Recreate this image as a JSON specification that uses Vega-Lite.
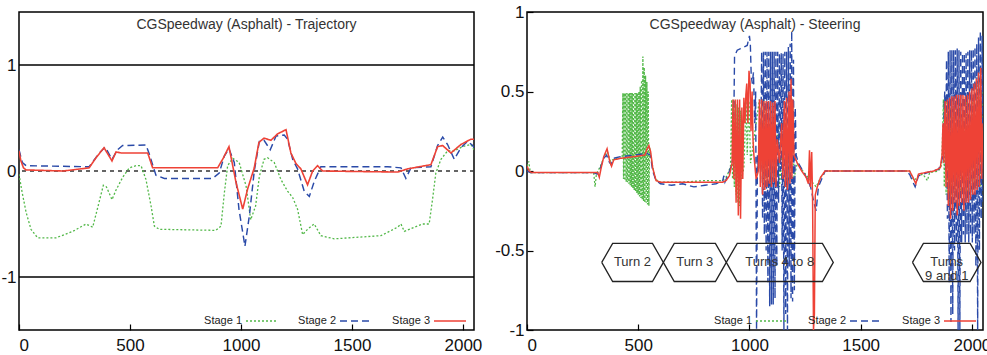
{
  "$schema": "https://vega.github.io/schema/vega-lite/v6.json",
  "padding": {"left": 0, "top": 2, "right": -4, "bottom": 0},
  "bounds": "flush",
  "spacing": 53,
  "config": {
    "font": "Liberation Sans",
    "view": {"stroke": "#000", "strokeWidth": 1.5},
    "axis": {
      "grid": false,
      "domain": false,
      "title": null,
      "labelFont": "Liberation Sans",
      "labelFontSize": 17,
      "labelColor": "#111",
      "tickColor": "#000",
      "tickWidth": 1.2,
      "tickSize": -6,
      "labelPadding": 13
    },
    "title": {
      "font": "Liberation Sans",
      "fontSize": 14,
      "fontWeight": "normal",
      "color": "#333",
      "frame": "group"
    },
    "legend": {
      "orient": "bottom-right",
      "direction": "horizontal",
      "title": null,
      "offset": 4,
      "padding": 0,
      "symbolType": "stroke",
      "symbolSize": 1024,
      "labelFont": "Liberation Sans",
      "labelFontSize": 11,
      "labelColor": "#222",
      "labelAlign": "right",
      "labelOffset": -37,
      "columnPadding": 17
    }
  },
  "datasets": {
    "trajectory": [
      {"x": 0, "y": -0.03, "stage": "Stage 1"}, {"x": 14, "y": -0.2, "stage": "Stage 1"}, {"x": 32, "y": -0.39, "stage": "Stage 1"}, {"x": 54, "y": -0.55, "stage": "Stage 1"}, {"x": 84, "y": -0.63, "stage": "Stage 1"}, {"x": 167, "y": -0.63, "stage": "Stage 1"}, {"x": 242, "y": -0.57, "stage": "Stage 1"}, {"x": 302, "y": -0.5, "stage": "Stage 1"}, {"x": 332, "y": -0.53, "stage": "Stage 1"}, {"x": 354, "y": -0.35, "stage": "Stage 1"}, {"x": 380, "y": -0.135, "stage": "Stage 1"}, {"x": 394, "y": -0.15, "stage": "Stage 1"}, {"x": 419, "y": -0.27, "stage": "Stage 1"}, {"x": 437, "y": -0.18, "stage": "Stage 1"}, {"x": 467, "y": -0.06, "stage": "Stage 1"}, {"x": 497, "y": 0.03, "stage": "Stage 1"}, {"x": 527, "y": 0.05, "stage": "Stage 1"}, {"x": 550, "y": 0.05, "stage": "Stage 1"}, {"x": 572, "y": -0.08, "stage": "Stage 1"}, {"x": 595, "y": -0.33, "stage": "Stage 1"}, {"x": 610, "y": -0.52, "stage": "Stage 1"}, {"x": 632, "y": -0.55, "stage": "Stage 1"}, {"x": 887, "y": -0.56, "stage": "Stage 1"}, {"x": 910, "y": -0.52, "stage": "Stage 1"}, {"x": 925, "y": -0.21, "stage": "Stage 1"}, {"x": 940, "y": 0.05, "stage": "Stage 1"}, {"x": 963, "y": 0.12, "stage": "Stage 1"}, {"x": 992, "y": 0.08, "stage": "Stage 1"}, {"x": 1023, "y": -0.14, "stage": "Stage 1"}, {"x": 1044, "y": -0.46, "stage": "Stage 1"}, {"x": 1066, "y": -0.33, "stage": "Stage 1"}, {"x": 1083, "y": -0.05, "stage": "Stage 1"}, {"x": 1104, "y": 0.11, "stage": "Stage 1"}, {"x": 1120, "y": 0.125, "stage": "Stage 1"}, {"x": 1150, "y": 0.08, "stage": "Stage 1"}, {"x": 1180, "y": -0.08, "stage": "Stage 1"}, {"x": 1210, "y": -0.19, "stage": "Stage 1"}, {"x": 1233, "y": -0.25, "stage": "Stage 1"}, {"x": 1255, "y": -0.36, "stage": "Stage 1"}, {"x": 1278, "y": -0.6, "stage": "Stage 1"}, {"x": 1300, "y": -0.55, "stage": "Stage 1"}, {"x": 1330, "y": -0.5, "stage": "Stage 1"}, {"x": 1360, "y": -0.61, "stage": "Stage 1"}, {"x": 1420, "y": -0.64, "stage": "Stage 1"}, {"x": 1631, "y": -0.61, "stage": "Stage 1"}, {"x": 1706, "y": -0.53, "stage": "Stage 1"}, {"x": 1721, "y": -0.5, "stage": "Stage 1"}, {"x": 1736, "y": -0.57, "stage": "Stage 1"}, {"x": 1781, "y": -0.53, "stage": "Stage 1"}, {"x": 1818, "y": -0.5, "stage": "Stage 1"}, {"x": 1848, "y": -0.5, "stage": "Stage 1"}, {"x": 1863, "y": -0.27, "stage": "Stage 1"}, {"x": 1878, "y": -0.02, "stage": "Stage 1"}, {"x": 1901, "y": 0.11, "stage": "Stage 1"}, {"x": 1931, "y": 0.19, "stage": "Stage 1"}, {"x": 1961, "y": 0.19, "stage": "Stage 1"}, {"x": 1999, "y": 0.23, "stage": "Stage 1"}, {"x": 2036, "y": 0.25, "stage": "Stage 1"}, {"x": 2050, "y": 0.2, "stage": "Stage 1"},
      {"x": 0, "y": 0.2, "stage": "Stage 2"}, {"x": 5, "y": 0.16, "stage": "Stage 2"}, {"x": 15, "y": 0.08, "stage": "Stage 2"}, {"x": 32, "y": 0.05, "stage": "Stage 2"}, {"x": 316, "y": 0.04, "stage": "Stage 2"}, {"x": 362, "y": 0.17, "stage": "Stage 2"}, {"x": 389, "y": 0.225, "stage": "Stage 2"}, {"x": 419, "y": 0.11, "stage": "Stage 2"}, {"x": 444, "y": 0.2, "stage": "Stage 2"}, {"x": 467, "y": 0.24, "stage": "Stage 2"}, {"x": 572, "y": 0.245, "stage": "Stage 2"}, {"x": 587, "y": 0.16, "stage": "Stage 2"}, {"x": 617, "y": -0.04, "stage": "Stage 2"}, {"x": 655, "y": -0.07, "stage": "Stage 2"}, {"x": 872, "y": -0.07, "stage": "Stage 2"}, {"x": 902, "y": -0.02, "stage": "Stage 2"}, {"x": 925, "y": 0.14, "stage": "Stage 2"}, {"x": 946, "y": 0.21, "stage": "Stage 2"}, {"x": 970, "y": 0.08, "stage": "Stage 2"}, {"x": 991, "y": -0.36, "stage": "Stage 2"}, {"x": 1018, "y": -0.71, "stage": "Stage 2"}, {"x": 1038, "y": -0.42, "stage": "Stage 2"}, {"x": 1060, "y": 0.0, "stage": "Stage 2"}, {"x": 1083, "y": 0.28, "stage": "Stage 2"}, {"x": 1104, "y": 0.29, "stage": "Stage 2"}, {"x": 1132, "y": 0.2, "stage": "Stage 2"}, {"x": 1158, "y": 0.33, "stage": "Stage 2"}, {"x": 1195, "y": 0.34, "stage": "Stage 2"}, {"x": 1210, "y": 0.3, "stage": "Stage 2"}, {"x": 1233, "y": 0.11, "stage": "Stage 2"}, {"x": 1255, "y": 0.02, "stage": "Stage 2"}, {"x": 1285, "y": -0.19, "stage": "Stage 2"}, {"x": 1308, "y": -0.24, "stage": "Stage 2"}, {"x": 1330, "y": -0.1, "stage": "Stage 2"}, {"x": 1360, "y": 0.04, "stage": "Stage 2"}, {"x": 1661, "y": 0.04, "stage": "Stage 2"}, {"x": 1721, "y": 0.03, "stage": "Stage 2"}, {"x": 1743, "y": -0.07, "stage": "Stage 2"}, {"x": 1766, "y": 0.03, "stage": "Stage 2"}, {"x": 1856, "y": 0.04, "stage": "Stage 2"}, {"x": 1886, "y": 0.24, "stage": "Stage 2"}, {"x": 1909, "y": 0.32, "stage": "Stage 2"}, {"x": 1931, "y": 0.25, "stage": "Stage 2"}, {"x": 1961, "y": 0.11, "stage": "Stage 2"}, {"x": 1991, "y": 0.22, "stage": "Stage 2"}, {"x": 2021, "y": 0.28, "stage": "Stage 2"}, {"x": 2044, "y": 0.24, "stage": "Stage 2"}, {"x": 2050, "y": 0.22, "stage": "Stage 2"},
      {"x": 0, "y": 0.19, "stage": "Stage 3"}, {"x": 8, "y": 0.1, "stage": "Stage 3"}, {"x": 20, "y": 0.03, "stage": "Stage 3"}, {"x": 32, "y": 0.01, "stage": "Stage 3"}, {"x": 200, "y": 0.0, "stage": "Stage 3"}, {"x": 316, "y": 0.03, "stage": "Stage 3"}, {"x": 347, "y": 0.125, "stage": "Stage 3"}, {"x": 383, "y": 0.22, "stage": "Stage 3"}, {"x": 419, "y": 0.095, "stage": "Stage 3"}, {"x": 437, "y": 0.18, "stage": "Stage 3"}, {"x": 460, "y": 0.17, "stage": "Stage 3"}, {"x": 580, "y": 0.17, "stage": "Stage 3"}, {"x": 602, "y": 0.03, "stage": "Stage 3"}, {"x": 895, "y": 0.03, "stage": "Stage 3"}, {"x": 920, "y": 0.12, "stage": "Stage 3"}, {"x": 946, "y": 0.23, "stage": "Stage 3"}, {"x": 978, "y": -0.11, "stage": "Stage 3"}, {"x": 1008, "y": -0.36, "stage": "Stage 3"}, {"x": 1030, "y": -0.17, "stage": "Stage 3"}, {"x": 1060, "y": 0.03, "stage": "Stage 3"}, {"x": 1081, "y": 0.27, "stage": "Stage 3"}, {"x": 1104, "y": 0.31, "stage": "Stage 3"}, {"x": 1135, "y": 0.29, "stage": "Stage 3"}, {"x": 1165, "y": 0.35, "stage": "Stage 3"}, {"x": 1203, "y": 0.39, "stage": "Stage 3"}, {"x": 1225, "y": 0.17, "stage": "Stage 3"}, {"x": 1248, "y": 0.07, "stage": "Stage 3"}, {"x": 1270, "y": 0.02, "stage": "Stage 3"}, {"x": 1300, "y": -0.13, "stage": "Stage 3"}, {"x": 1323, "y": 0.0, "stage": "Stage 3"}, {"x": 1345, "y": 0.05, "stage": "Stage 3"}, {"x": 1368, "y": 0.0, "stage": "Stage 3"}, {"x": 1706, "y": -0.01, "stage": "Stage 3"}, {"x": 1751, "y": 0.02, "stage": "Stage 3"}, {"x": 1856, "y": 0.06, "stage": "Stage 3"}, {"x": 1886, "y": 0.23, "stage": "Stage 3"}, {"x": 1909, "y": 0.24, "stage": "Stage 3"}, {"x": 1946, "y": 0.17, "stage": "Stage 3"}, {"x": 1991, "y": 0.25, "stage": "Stage 3"}, {"x": 2036, "y": 0.3, "stage": "Stage 3"}, {"x": 2050, "y": 0.3, "stage": "Stage 3"}
    ],
    "steering": [
      {"x": 0, "y": 0.03, "stage": "Stage 1"}, {"x": 8, "y": 0.06, "stage": "Stage 1"}, {"x": 15, "y": -0.01, "stage": "Stage 1"}, {"x": 300, "y": -0.01, "stage": "Stage 1"}, {"x": 306, "y": -0.1, "stage": "Stage 1"}, {"x": 312, "y": -0.02, "stage": "Stage 1"}, {"x": 330, "y": 0.03, "stage": "Stage 1"}, {"x": 350, "y": 0.1, "stage": "Stage 1"}, {"x": 362, "y": 0.12, "stage": "Stage 1"}, {"x": 375, "y": 0.06, "stage": "Stage 1"}, {"x": 395, "y": 0.08, "stage": "Stage 1"}, {"x": 428, "y": 0.08, "stage": "Stage 1"},
      {"x": 431, "y": 0.49, "stage": "Stage 1"}, {"x": 434, "y": -0.05, "stage": "Stage 1"}, {"x": 437, "y": 0.49, "stage": "Stage 1"}, {"x": 440, "y": -0.06, "stage": "Stage 1"}, {"x": 443, "y": 0.49, "stage": "Stage 1"}, {"x": 446, "y": -0.07, "stage": "Stage 1"}, {"x": 449, "y": 0.49, "stage": "Stage 1"}, {"x": 452, "y": -0.07, "stage": "Stage 1"}, {"x": 455, "y": 0.49, "stage": "Stage 1"}, {"x": 458, "y": -0.08, "stage": "Stage 1"}, {"x": 461, "y": 0.49, "stage": "Stage 1"}, {"x": 464, "y": -0.09, "stage": "Stage 1"}, {"x": 467, "y": 0.49, "stage": "Stage 1"}, {"x": 470, "y": -0.1, "stage": "Stage 1"}, {"x": 473, "y": 0.49, "stage": "Stage 1"}, {"x": 476, "y": -0.11, "stage": "Stage 1"}, {"x": 479, "y": 0.49, "stage": "Stage 1"}, {"x": 482, "y": -0.12, "stage": "Stage 1"}, {"x": 485, "y": 0.49, "stage": "Stage 1"}, {"x": 488, "y": -0.13, "stage": "Stage 1"}, {"x": 491, "y": 0.49, "stage": "Stage 1"}, {"x": 494, "y": -0.14, "stage": "Stage 1"}, {"x": 497, "y": 0.49, "stage": "Stage 1"}, {"x": 500, "y": -0.15, "stage": "Stage 1"}, {"x": 503, "y": 0.5, "stage": "Stage 1"}, {"x": 506, "y": -0.16, "stage": "Stage 1"}, {"x": 509, "y": 0.53, "stage": "Stage 1"}, {"x": 512, "y": -0.17, "stage": "Stage 1"}, {"x": 515, "y": 0.57, "stage": "Stage 1"}, {"x": 518, "y": -0.18, "stage": "Stage 1"}, {"x": 521, "y": 0.72, "stage": "Stage 1"}, {"x": 524, "y": -0.19, "stage": "Stage 1"}, {"x": 527, "y": 0.65, "stage": "Stage 1"}, {"x": 530, "y": -0.2, "stage": "Stage 1"}, {"x": 533, "y": 0.6, "stage": "Stage 1"}, {"x": 536, "y": -0.2, "stage": "Stage 1"}, {"x": 539, "y": 0.56, "stage": "Stage 1"}, {"x": 542, "y": -0.21, "stage": "Stage 1"}, {"x": 545, "y": 0.5, "stage": "Stage 1"}, {"x": 548, "y": -0.22, "stage": "Stage 1"}, {"x": 551, "y": 0.15, "stage": "Stage 1"},
      {"x": 560, "y": 0.06, "stage": "Stage 1"}, {"x": 575, "y": -0.04, "stage": "Stage 1"}, {"x": 590, "y": -0.07, "stage": "Stage 1"}, {"x": 700, "y": -0.07, "stage": "Stage 1"}, {"x": 800, "y": -0.06, "stage": "Stage 1"}, {"x": 880, "y": -0.06, "stage": "Stage 1"}, {"x": 900, "y": -0.03, "stage": "Stage 1"}, {"x": 915, "y": 0.03, "stage": "Stage 1"},
      {"x": 920, "y": 0.45, "stage": "Stage 1"}, {"x": 924, "y": -0.05, "stage": "Stage 1"}, {"x": 928, "y": 0.45, "stage": "Stage 1"}, {"x": 932, "y": -0.1, "stage": "Stage 1"}, {"x": 936, "y": 0.44, "stage": "Stage 1"}, {"x": 940, "y": -0.15, "stage": "Stage 1"}, {"x": 944, "y": 0.42, "stage": "Stage 1"}, {"x": 948, "y": -0.2, "stage": "Stage 1"}, {"x": 952, "y": 0.4, "stage": "Stage 1"}, {"x": 956, "y": -0.22, "stage": "Stage 1"}, {"x": 960, "y": 0.38, "stage": "Stage 1"}, {"x": 964, "y": -0.05, "stage": "Stage 1"}, {"x": 975, "y": 0.02, "stage": "Stage 1"}, {"x": 985, "y": 0.44, "stage": "Stage 1"}, {"x": 990, "y": 0.1, "stage": "Stage 1"}, {"x": 998, "y": 0.44, "stage": "Stage 1"}, {"x": 1005, "y": 0.05, "stage": "Stage 1"},
      {"x": 1045, "y": 0.45, "stage": "Stage 1"}, {"x": 1050, "y": -0.05, "stage": "Stage 1"}, {"x": 1055, "y": 0.45, "stage": "Stage 1"}, {"x": 1060, "y": -0.08, "stage": "Stage 1"}, {"x": 1065, "y": 0.45, "stage": "Stage 1"}, {"x": 1070, "y": -0.05, "stage": "Stage 1"}, {"x": 1075, "y": 0.4, "stage": "Stage 1"}, {"x": 1080, "y": -0.1, "stage": "Stage 1"}, {"x": 1090, "y": 0.3, "stage": "Stage 1"}, {"x": 1095, "y": -0.1, "stage": "Stage 1"}, {"x": 1105, "y": 0.35, "stage": "Stage 1"}, {"x": 1110, "y": -0.05, "stage": "Stage 1"}, {"x": 1130, "y": 0.3, "stage": "Stage 1"}, {"x": 1135, "y": -0.1, "stage": "Stage 1"}, {"x": 1160, "y": 0.35, "stage": "Stage 1"}, {"x": 1165, "y": -0.1, "stage": "Stage 1"}, {"x": 1195, "y": 0.45, "stage": "Stage 1"}, {"x": 1200, "y": -0.05, "stage": "Stage 1"},
      {"x": 1215, "y": 0.05, "stage": "Stage 1"}, {"x": 1240, "y": 0.0, "stage": "Stage 1"}, {"x": 1270, "y": -0.05, "stage": "Stage 1"}, {"x": 1300, "y": -0.1, "stage": "Stage 1"}, {"x": 1320, "y": -0.04, "stage": "Stage 1"}, {"x": 1345, "y": 0.0, "stage": "Stage 1"}, {"x": 1720, "y": 0.0, "stage": "Stage 1"}, {"x": 1740, "y": -0.06, "stage": "Stage 1"}, {"x": 1760, "y": -0.03, "stage": "Stage 1"}, {"x": 1780, "y": -0.02, "stage": "Stage 1"}, {"x": 1800, "y": -0.06, "stage": "Stage 1"}, {"x": 1810, "y": -0.01, "stage": "Stage 1"}, {"x": 1850, "y": 0.0, "stage": "Stage 1"}, {"x": 1865, "y": 0.04, "stage": "Stage 1"},
      {"x": 1872, "y": 0.45, "stage": "Stage 1"}, {"x": 1876, "y": -0.1, "stage": "Stage 1"}, {"x": 1880, "y": 0.46, "stage": "Stage 1"}, {"x": 1884, "y": -0.15, "stage": "Stage 1"}, {"x": 1888, "y": 0.44, "stage": "Stage 1"}, {"x": 1892, "y": -0.18, "stage": "Stage 1"}, {"x": 1896, "y": 0.42, "stage": "Stage 1"}, {"x": 1900, "y": -0.2, "stage": "Stage 1"}, {"x": 1905, "y": 0.4, "stage": "Stage 1"}, {"x": 1910, "y": -0.18, "stage": "Stage 1"}, {"x": 1920, "y": 0.4, "stage": "Stage 1"}, {"x": 1925, "y": -0.15, "stage": "Stage 1"}, {"x": 1945, "y": 0.4, "stage": "Stage 1"}, {"x": 1950, "y": -0.15, "stage": "Stage 1"}, {"x": 1975, "y": 0.45, "stage": "Stage 1"}, {"x": 1980, "y": -0.15, "stage": "Stage 1"}, {"x": 2005, "y": 0.45, "stage": "Stage 1"}, {"x": 2010, "y": -0.1, "stage": "Stage 1"}, {"x": 2030, "y": 0.6, "stage": "Stage 1"}, {"x": 2040, "y": -0.1, "stage": "Stage 1"}, {"x": 2048, "y": 0.5, "stage": "Stage 1"},

      {"x": 0, "y": 0.0, "stage": "Stage 2"}, {"x": 15, "y": -0.01, "stage": "Stage 2"}, {"x": 300, "y": -0.01, "stage": "Stage 2"}, {"x": 315, "y": -0.02, "stage": "Stage 2"}, {"x": 330, "y": 0.02, "stage": "Stage 2"}, {"x": 345, "y": 0.08, "stage": "Stage 2"}, {"x": 358, "y": 0.1, "stage": "Stage 2"}, {"x": 368, "y": 0.06, "stage": "Stage 2"}, {"x": 378, "y": 0.04, "stage": "Stage 2"}, {"x": 390, "y": 0.08, "stage": "Stage 2"}, {"x": 420, "y": 0.09, "stage": "Stage 2"}, {"x": 480, "y": 0.1, "stage": "Stage 2"}, {"x": 540, "y": 0.11, "stage": "Stage 2"}, {"x": 555, "y": 0.1, "stage": "Stage 2"}, {"x": 565, "y": 0.0, "stage": "Stage 2"}, {"x": 580, "y": -0.06, "stage": "Stage 2"}, {"x": 600, "y": -0.08, "stage": "Stage 2"}, {"x": 650, "y": -0.09, "stage": "Stage 2"}, {"x": 700, "y": -0.08, "stage": "Stage 2"}, {"x": 750, "y": -0.1, "stage": "Stage 2"}, {"x": 800, "y": -0.09, "stage": "Stage 2"}, {"x": 850, "y": -0.08, "stage": "Stage 2"}, {"x": 880, "y": -0.06, "stage": "Stage 2"}, {"x": 885, "y": -0.03, "stage": "Stage 2"}, {"x": 890, "y": -0.07, "stage": "Stage 2"}, {"x": 905, "y": -0.02, "stage": "Stage 2"}, {"x": 920, "y": 0.04, "stage": "Stage 2"}, {"x": 928, "y": 0.1, "stage": "Stage 2"},
      {"x": 933, "y": 0.72, "stage": "Stage 2"}, {"x": 945, "y": 0.76, "stage": "Stage 2"}, {"x": 960, "y": 0.77, "stage": "Stage 2"}, {"x": 975, "y": 0.78, "stage": "Stage 2"}, {"x": 990, "y": 0.79, "stage": "Stage 2"}, {"x": 1000, "y": 0.85, "stage": "Stage 2"}, {"x": 1004, "y": 0.8, "stage": "Stage 2"}, {"x": 1008, "y": 0.6, "stage": "Stage 2"}, {"x": 1013, "y": 0.55, "stage": "Stage 2"}, {"x": 1018, "y": 0.62, "stage": "Stage 2"}, {"x": 1024, "y": 0.3, "stage": "Stage 2"}, {"x": 1028, "y": 0.5, "stage": "Stage 2"}, {"x": 1032, "y": -1.0, "stage": "Stage 2"}, {"x": 1036, "y": 0.1, "stage": "Stage 2"}, {"x": 1040, "y": 0.0, "stage": "Stage 2"}, {"x": 1045, "y": 0.2, "stage": "Stage 2"}, {"x": 1050, "y": 0.0, "stage": "Stage 2"},
      {"x": 1055, "y": 0.75, "stage": "Stage 2"}, {"x": 1059, "y": -0.3, "stage": "Stage 2"}, {"x": 1063, "y": 0.75, "stage": "Stage 2"}, {"x": 1067, "y": -0.4, "stage": "Stage 2"}, {"x": 1071, "y": 0.75, "stage": "Stage 2"}, {"x": 1075, "y": -0.5, "stage": "Stage 2"}, {"x": 1079, "y": 0.75, "stage": "Stage 2"}, {"x": 1083, "y": -0.7, "stage": "Stage 2"}, {"x": 1087, "y": 0.75, "stage": "Stage 2"}, {"x": 1091, "y": -0.85, "stage": "Stage 2"}, {"x": 1095, "y": 0.75, "stage": "Stage 2"}, {"x": 1099, "y": -0.84, "stage": "Stage 2"}, {"x": 1103, "y": 0.75, "stage": "Stage 2"}, {"x": 1107, "y": -0.84, "stage": "Stage 2"}, {"x": 1111, "y": 0.75, "stage": "Stage 2"}, {"x": 1115, "y": -0.8, "stage": "Stage 2"}, {"x": 1119, "y": 0.75, "stage": "Stage 2"}, {"x": 1123, "y": -0.6, "stage": "Stage 2"}, {"x": 1127, "y": 0.75, "stage": "Stage 2"}, {"x": 1131, "y": -0.2, "stage": "Stage 2"}, {"x": 1135, "y": 0.74, "stage": "Stage 2"}, {"x": 1139, "y": 0.0, "stage": "Stage 2"}, {"x": 1143, "y": 0.74, "stage": "Stage 2"}, {"x": 1147, "y": -0.5, "stage": "Stage 2"}, {"x": 1151, "y": 0.74, "stage": "Stage 2"}, {"x": 1155, "y": -1.0, "stage": "Stage 2"}, {"x": 1159, "y": 0.75, "stage": "Stage 2"}, {"x": 1163, "y": -0.9, "stage": "Stage 2"}, {"x": 1167, "y": 0.75, "stage": "Stage 2"}, {"x": 1171, "y": -1.0, "stage": "Stage 2"}, {"x": 1175, "y": 0.78, "stage": "Stage 2"}, {"x": 1179, "y": -0.6, "stage": "Stage 2"}, {"x": 1183, "y": 0.8, "stage": "Stage 2"}, {"x": 1187, "y": -0.8, "stage": "Stage 2"}, {"x": 1190, "y": 0.88, "stage": "Stage 2"}, {"x": 1194, "y": -0.82, "stage": "Stage 2"}, {"x": 1198, "y": 0.7, "stage": "Stage 2"}, {"x": 1202, "y": -0.75, "stage": "Stage 2"}, {"x": 1206, "y": 0.4, "stage": "Stage 2"}, {"x": 1210, "y": 0.1, "stage": "Stage 2"},
      {"x": 1220, "y": 0.05, "stage": "Stage 2"}, {"x": 1240, "y": 0.0, "stage": "Stage 2"}, {"x": 1260, "y": -0.05, "stage": "Stage 2"}, {"x": 1275, "y": -0.1, "stage": "Stage 2"}, {"x": 1290, "y": -0.2, "stage": "Stage 2"}, {"x": 1300, "y": -0.25, "stage": "Stage 2"}, {"x": 1310, "y": -0.1, "stage": "Stage 2"}, {"x": 1325, "y": -0.05, "stage": "Stage 2"}, {"x": 1340, "y": 0.0, "stage": "Stage 2"}, {"x": 1700, "y": 0.0, "stage": "Stage 2"}, {"x": 1720, "y": -0.02, "stage": "Stage 2"}, {"x": 1735, "y": -0.07, "stage": "Stage 2"}, {"x": 1745, "y": -0.1, "stage": "Stage 2"}, {"x": 1760, "y": -0.03, "stage": "Stage 2"}, {"x": 1780, "y": -0.02, "stage": "Stage 2"}, {"x": 1820, "y": 0.0, "stage": "Stage 2"}, {"x": 1850, "y": 0.01, "stage": "Stage 2"}, {"x": 1862, "y": 0.05, "stage": "Stage 2"}, {"x": 1870, "y": 0.1, "stage": "Stage 2"},
      {"x": 1878, "y": 0.5, "stage": "Stage 2"}, {"x": 1882, "y": 0.0, "stage": "Stage 2"}, {"x": 1886, "y": 0.7, "stage": "Stage 2"}, {"x": 1890, "y": -0.3, "stage": "Stage 2"}, {"x": 1894, "y": 0.75, "stage": "Stage 2"}, {"x": 1898, "y": -0.7, "stage": "Stage 2"}, {"x": 1902, "y": 0.76, "stage": "Stage 2"}, {"x": 1906, "y": -0.95, "stage": "Stage 2"}, {"x": 1910, "y": 0.76, "stage": "Stage 2"}, {"x": 1914, "y": -0.9, "stage": "Stage 2"}, {"x": 1918, "y": 0.76, "stage": "Stage 2"}, {"x": 1922, "y": -0.5, "stage": "Stage 2"}, {"x": 1926, "y": 0.76, "stage": "Stage 2"}, {"x": 1930, "y": -0.45, "stage": "Stage 2"}, {"x": 1934, "y": 0.77, "stage": "Stage 2"}, {"x": 1938, "y": -1.0, "stage": "Stage 2"}, {"x": 1942, "y": 0.76, "stage": "Stage 2"}, {"x": 1946, "y": -1.0, "stage": "Stage 2"}, {"x": 1950, "y": 0.75, "stage": "Stage 2"}, {"x": 1954, "y": -0.45, "stage": "Stage 2"}, {"x": 1958, "y": 0.74, "stage": "Stage 2"}, {"x": 1962, "y": -0.4, "stage": "Stage 2"}, {"x": 1966, "y": 0.74, "stage": "Stage 2"}, {"x": 1970, "y": -0.45, "stage": "Stage 2"}, {"x": 1974, "y": 0.74, "stage": "Stage 2"}, {"x": 1978, "y": -0.4, "stage": "Stage 2"}, {"x": 1982, "y": 0.75, "stage": "Stage 2"}, {"x": 1986, "y": -0.45, "stage": "Stage 2"}, {"x": 1990, "y": 0.76, "stage": "Stage 2"}, {"x": 1994, "y": -0.4, "stage": "Stage 2"}, {"x": 1998, "y": 0.76, "stage": "Stage 2"}, {"x": 2002, "y": -0.45, "stage": "Stage 2"}, {"x": 2006, "y": 0.77, "stage": "Stage 2"}, {"x": 2010, "y": -0.4, "stage": "Stage 2"}, {"x": 2014, "y": 0.78, "stage": "Stage 2"}, {"x": 2018, "y": -0.6, "stage": "Stage 2"}, {"x": 2022, "y": 0.8, "stage": "Stage 2"}, {"x": 2026, "y": -1.0, "stage": "Stage 2"}, {"x": 2030, "y": 0.84, "stage": "Stage 2"}, {"x": 2034, "y": -0.5, "stage": "Stage 2"}, {"x": 2038, "y": 0.88, "stage": "Stage 2"}, {"x": 2042, "y": -0.3, "stage": "Stage 2"}, {"x": 2046, "y": 0.85, "stage": "Stage 2"}, {"x": 2050, "y": -0.2, "stage": "Stage 2"},

      {"x": 0, "y": 0.03, "stage": "Stage 3"}, {"x": 10, "y": 0.0, "stage": "Stage 3"}, {"x": 20, "y": -0.01, "stage": "Stage 3"}, {"x": 318, "y": -0.01, "stage": "Stage 3"}, {"x": 325, "y": -0.04, "stage": "Stage 3"}, {"x": 332, "y": 0.01, "stage": "Stage 3"}, {"x": 345, "y": 0.09, "stage": "Stage 3"}, {"x": 360, "y": 0.14, "stage": "Stage 3"}, {"x": 372, "y": 0.06, "stage": "Stage 3"}, {"x": 380, "y": 0.03, "stage": "Stage 3"}, {"x": 390, "y": 0.07, "stage": "Stage 3"}, {"x": 420, "y": 0.08, "stage": "Stage 3"}, {"x": 480, "y": 0.09, "stage": "Stage 3"}, {"x": 530, "y": 0.1, "stage": "Stage 3"}, {"x": 540, "y": 0.14, "stage": "Stage 3"}, {"x": 548, "y": 0.16, "stage": "Stage 3"}, {"x": 556, "y": 0.12, "stage": "Stage 3"}, {"x": 565, "y": 0.02, "stage": "Stage 3"}, {"x": 580, "y": -0.06, "stage": "Stage 3"}, {"x": 600, "y": -0.07, "stage": "Stage 3"}, {"x": 880, "y": -0.07, "stage": "Stage 3"}, {"x": 895, "y": -0.06, "stage": "Stage 3"}, {"x": 910, "y": -0.03, "stage": "Stage 3"}, {"x": 922, "y": 0.05, "stage": "Stage 3"},
      {"x": 926, "y": 0.45, "stage": "Stage 3"}, {"x": 930, "y": -0.05, "stage": "Stage 3"}, {"x": 936, "y": 0.45, "stage": "Stage 3"}, {"x": 940, "y": -0.2, "stage": "Stage 3"}, {"x": 946, "y": 0.45, "stage": "Stage 3"}, {"x": 950, "y": -0.28, "stage": "Stage 3"}, {"x": 956, "y": 0.45, "stage": "Stage 3"}, {"x": 960, "y": -0.3, "stage": "Stage 3"}, {"x": 966, "y": 0.4, "stage": "Stage 3"}, {"x": 970, "y": -0.05, "stage": "Stage 3"}, {"x": 975, "y": 0.46, "stage": "Stage 3"}, {"x": 980, "y": 0.3, "stage": "Stage 3"}, {"x": 984, "y": 0.48, "stage": "Stage 3"}, {"x": 988, "y": 0.55, "stage": "Stage 3"}, {"x": 993, "y": 0.3, "stage": "Stage 3"}, {"x": 998, "y": 0.63, "stage": "Stage 3"}, {"x": 1003, "y": 0.55, "stage": "Stage 3"}, {"x": 1007, "y": 0.25, "stage": "Stage 3"}, {"x": 1012, "y": 0.5, "stage": "Stage 3"}, {"x": 1016, "y": 0.2, "stage": "Stage 3"}, {"x": 1020, "y": 0.1, "stage": "Stage 3"}, {"x": 1030, "y": -0.05, "stage": "Stage 3"}, {"x": 1040, "y": 0.0, "stage": "Stage 3"},
      {"x": 1045, "y": 0.45, "stage": "Stage 3"}, {"x": 1049, "y": -0.1, "stage": "Stage 3"}, {"x": 1055, "y": 0.45, "stage": "Stage 3"}, {"x": 1059, "y": -0.15, "stage": "Stage 3"}, {"x": 1065, "y": 0.44, "stage": "Stage 3"}, {"x": 1069, "y": -0.12, "stage": "Stage 3"}, {"x": 1075, "y": 0.44, "stage": "Stage 3"}, {"x": 1079, "y": -0.1, "stage": "Stage 3"}, {"x": 1085, "y": 0.44, "stage": "Stage 3"}, {"x": 1089, "y": -0.08, "stage": "Stage 3"}, {"x": 1095, "y": 0.44, "stage": "Stage 3"}, {"x": 1099, "y": -0.1, "stage": "Stage 3"}, {"x": 1105, "y": 0.43, "stage": "Stage 3"}, {"x": 1109, "y": -0.07, "stage": "Stage 3"}, {"x": 1115, "y": 0.44, "stage": "Stage 3"}, {"x": 1119, "y": -0.1, "stage": "Stage 3"}, {"x": 1125, "y": 0.2, "stage": "Stage 3"}, {"x": 1135, "y": 0.05, "stage": "Stage 3"}, {"x": 1145, "y": 0.3, "stage": "Stage 3"}, {"x": 1150, "y": -0.05, "stage": "Stage 3"}, {"x": 1157, "y": 0.44, "stage": "Stage 3"}, {"x": 1161, "y": -0.1, "stage": "Stage 3"}, {"x": 1167, "y": 0.46, "stage": "Stage 3"}, {"x": 1171, "y": -0.12, "stage": "Stage 3"}, {"x": 1178, "y": 0.5, "stage": "Stage 3"}, {"x": 1182, "y": -0.08, "stage": "Stage 3"}, {"x": 1187, "y": 0.58, "stage": "Stage 3"}, {"x": 1191, "y": -0.05, "stage": "Stage 3"}, {"x": 1195, "y": 0.45, "stage": "Stage 3"}, {"x": 1200, "y": 0.1, "stage": "Stage 3"},
      {"x": 1215, "y": 0.05, "stage": "Stage 3"}, {"x": 1235, "y": 0.0, "stage": "Stage 3"}, {"x": 1255, "y": -0.04, "stage": "Stage 3"}, {"x": 1265, "y": -0.08, "stage": "Stage 3"}, {"x": 1270, "y": 0.13, "stage": "Stage 3"}, {"x": 1274, "y": -0.1, "stage": "Stage 3"}, {"x": 1280, "y": 0.12, "stage": "Stage 3"}, {"x": 1284, "y": -0.2, "stage": "Stage 3"}, {"x": 1288, "y": -1.0, "stage": "Stage 3"}, {"x": 1292, "y": -0.9, "stage": "Stage 3"}, {"x": 1296, "y": -0.15, "stage": "Stage 3"}, {"x": 1305, "y": -0.1, "stage": "Stage 3"}, {"x": 1320, "y": -0.04, "stage": "Stage 3"}, {"x": 1340, "y": 0.0, "stage": "Stage 3"}, {"x": 1720, "y": 0.0, "stage": "Stage 3"}, {"x": 1735, "y": -0.04, "stage": "Stage 3"}, {"x": 1748, "y": -0.08, "stage": "Stage 3"}, {"x": 1760, "y": -0.02, "stage": "Stage 3"}, {"x": 1790, "y": -0.01, "stage": "Stage 3"}, {"x": 1830, "y": 0.0, "stage": "Stage 3"}, {"x": 1858, "y": 0.02, "stage": "Stage 3"}, {"x": 1866, "y": 0.1, "stage": "Stage 3"},
      {"x": 1870, "y": 0.3, "stage": "Stage 3"}, {"x": 1874, "y": 0.05, "stage": "Stage 3"}, {"x": 1880, "y": 0.44, "stage": "Stage 3"}, {"x": 1884, "y": -0.1, "stage": "Stage 3"}, {"x": 1890, "y": 0.45, "stage": "Stage 3"}, {"x": 1894, "y": -0.22, "stage": "Stage 3"}, {"x": 1900, "y": 0.46, "stage": "Stage 3"}, {"x": 1904, "y": -0.3, "stage": "Stage 3"}, {"x": 1910, "y": 0.47, "stage": "Stage 3"}, {"x": 1914, "y": -0.25, "stage": "Stage 3"}, {"x": 1920, "y": 0.47, "stage": "Stage 3"}, {"x": 1924, "y": -0.2, "stage": "Stage 3"}, {"x": 1930, "y": 0.48, "stage": "Stage 3"}, {"x": 1934, "y": -0.28, "stage": "Stage 3"}, {"x": 1940, "y": 0.48, "stage": "Stage 3"}, {"x": 1944, "y": -0.22, "stage": "Stage 3"}, {"x": 1950, "y": 0.48, "stage": "Stage 3"}, {"x": 1954, "y": -0.2, "stage": "Stage 3"}, {"x": 1960, "y": 0.48, "stage": "Stage 3"}, {"x": 1964, "y": -0.25, "stage": "Stage 3"}, {"x": 1970, "y": 0.47, "stage": "Stage 3"}, {"x": 1974, "y": -0.2, "stage": "Stage 3"}, {"x": 1980, "y": 0.48, "stage": "Stage 3"}, {"x": 1984, "y": -0.2, "stage": "Stage 3"}, {"x": 1990, "y": 0.5, "stage": "Stage 3"}, {"x": 1994, "y": -0.18, "stage": "Stage 3"}, {"x": 2000, "y": 0.52, "stage": "Stage 3"}, {"x": 2004, "y": -0.15, "stage": "Stage 3"}, {"x": 2010, "y": 0.55, "stage": "Stage 3"}, {"x": 2014, "y": -0.15, "stage": "Stage 3"}, {"x": 2020, "y": 0.58, "stage": "Stage 3"}, {"x": 2024, "y": -0.12, "stage": "Stage 3"}, {"x": 2030, "y": 0.62, "stage": "Stage 3"}, {"x": 2034, "y": -0.1, "stage": "Stage 3"}, {"x": 2040, "y": 0.65, "stage": "Stage 3"}, {"x": 2044, "y": -0.05, "stage": "Stage 3"}, {"x": 2050, "y": 0.3, "stage": "Stage 3"}
    ],
    "hexagons": [
      {"turn": "Turn 2", "i": 0, "x": 336, "y": -0.575}, {"turn": "Turn 2", "i": 1, "x": 385, "y": -0.455}, {"turn": "Turn 2", "i": 2, "x": 564, "y": -0.455}, {"turn": "Turn 2", "i": 3, "x": 613, "y": -0.575}, {"turn": "Turn 2", "i": 4, "x": 564, "y": -0.695}, {"turn": "Turn 2", "i": 5, "x": 385, "y": -0.695}, {"turn": "Turn 2", "i": 6, "x": 336, "y": -0.575},
      {"turn": "Turn 3", "i": 0, "x": 613, "y": -0.575}, {"turn": "Turn 3", "i": 1, "x": 662, "y": -0.455}, {"turn": "Turn 3", "i": 2, "x": 847, "y": -0.455}, {"turn": "Turn 3", "i": 3, "x": 896, "y": -0.575}, {"turn": "Turn 3", "i": 4, "x": 847, "y": -0.695}, {"turn": "Turn 3", "i": 5, "x": 662, "y": -0.695}, {"turn": "Turn 3", "i": 6, "x": 613, "y": -0.575},
      {"turn": "Turns 4 to 8", "i": 0, "x": 896, "y": -0.575}, {"turn": "Turns 4 to 8", "i": 1, "x": 945, "y": -0.455}, {"turn": "Turns 4 to 8", "i": 2, "x": 1328, "y": -0.455}, {"turn": "Turns 4 to 8", "i": 3, "x": 1377, "y": -0.575}, {"turn": "Turns 4 to 8", "i": 4, "x": 1328, "y": -0.695}, {"turn": "Turns 4 to 8", "i": 5, "x": 945, "y": -0.695}, {"turn": "Turns 4 to 8", "i": 6, "x": 896, "y": -0.575},
      {"turn": "Turns 9 and 1", "i": 0, "x": 1733, "y": -0.575}, {"turn": "Turns 9 and 1", "i": 1, "x": 1782, "y": -0.455}, {"turn": "Turns 9 and 1", "i": 2, "x": 1992, "y": -0.455}, {"turn": "Turns 9 and 1", "i": 3, "x": 2041, "y": -0.575}, {"turn": "Turns 9 and 1", "i": 4, "x": 1992, "y": -0.695}, {"turn": "Turns 9 and 1", "i": 5, "x": 1782, "y": -0.695}, {"turn": "Turns 9 and 1", "i": 6, "x": 1733, "y": -0.575}
    ],
    "turnLabels": [
      {"label": "Turn 2", "x": 474, "y": -0.575},
      {"label": "Turn 3", "x": 754, "y": -0.575},
      {"label": "Turns 4 to 8", "x": 1136, "y": -0.575},
      {"label": "Turns\n9 and 1", "x": 1887, "y": -0.575}
    ]
  },
  "resolve": {
    "scale": {"x": "independent", "y": "independent", "color": "independent", "strokeDash": "independent", "strokeWidth": "independent"},
    "legend": {"color": "independent", "strokeDash": "independent", "strokeWidth": "independent"}
  },
  "hconcat": [
    {
      "width": 455,
      "height": 318,
      "title": {"text": "CGSpeedway (Asphalt) - Trajectory", "offset": -20},
      "layer": [
        {
          "data": {"values": [{"level": 1}, {"level": -1}]},
          "mark": {"type": "rule", "color": "#000", "strokeWidth": 1.6},
          "encoding": {"y": {"field": "level", "type": "quantitative", "scale": {"domain": [-1.5, 1.5]}}}
        },
        {
          "data": {"values": [{"level": 0}]},
          "mark": {"type": "rule", "color": "#333", "strokeWidth": 1.5, "strokeDash": [4, 4]},
          "encoding": {"y": {"field": "level", "type": "quantitative", "scale": {"domain": [-1.5, 1.5]}}}
        },
        {
          "data": {"name": "trajectory"},
          "mark": {"type": "line", "clip": true},
          "encoding": {
            "x": {"field": "x", "type": "quantitative", "scale": {"domain": [0, 2050], "nice": false, "zero": false}, "axis": {"values": [0, 500, 1000, 1500, 2000], "labelExpr": "'' + datum.value"}},
            "y": {"field": "y", "type": "quantitative", "scale": {"domain": [-1.5, 1.5], "nice": false}, "axis": {"values": [-1, 0, 1], "labelExpr": "'' + datum.value", "labelPadding": 3, "ticks": false}},
            "color": {"field": "stage", "type": "nominal", "scale": {"domain": ["Stage 1", "Stage 2", "Stage 3"], "range": ["#52b848", "#2a4aa8", "#ee4236"]}},
            "strokeDash": {"field": "stage", "type": "nominal", "scale": {"domain": ["Stage 1", "Stage 2", "Stage 3"], "range": [[2, 2], [7, 4], [1, 0]]}},
            "strokeWidth": {"field": "stage", "type": "nominal", "scale": {"domain": ["Stage 1", "Stage 2", "Stage 3"], "range": [1.3, 1.6, 2]}}
          }
        }
      ]
    },
    {
      "width": 456,
      "height": 318,
      "title": {"text": "CGSpeedway (Asphalt) - Steering", "offset": -29},
      "layer": [
        {
          "data": {"name": "steering"},
          "mark": {"type": "line", "clip": true},
          "encoding": {
            "x": {"field": "x", "type": "quantitative", "scale": {"domain": [0, 2050], "nice": false, "zero": false}, "axis": {"values": [0, 500, 1000, 1500, 2000], "labelExpr": "'' + datum.value"}},
            "y": {"field": "y", "type": "quantitative", "scale": {"domain": [-1, 1], "nice": false}, "axis": {"values": [-1, -0.5, 0, 0.5, 1], "labelExpr": "'' + datum.value", "labelPadding": 9}},
            "color": {"field": "stage", "type": "nominal", "scale": {"domain": ["Stage 1", "Stage 2", "Stage 3"], "range": ["#52b848", "#2a4aa8", "#ee4236"]}},
            "strokeDash": {"field": "stage", "type": "nominal", "scale": {"domain": ["Stage 1", "Stage 2", "Stage 3"], "range": [[2, 2], [7, 4], [1, 0]]}},
            "strokeWidth": {"field": "stage", "type": "nominal", "scale": {"domain": ["Stage 1", "Stage 2", "Stage 3"], "range": [1.3, 1.5, 1.6]}}
          }
        },
        {
          "data": {"name": "hexagons"},
          "mark": {"type": "line", "color": "#222", "strokeWidth": 1.3, "strokeJoin": "miter"},
          "encoding": {
            "x": {"field": "x", "type": "quantitative"},
            "y": {"field": "y", "type": "quantitative"},
            "detail": {"field": "turn", "type": "nominal"},
            "order": {"field": "i", "type": "quantitative"}
          }
        },
        {
          "data": {"name": "turnLabels"},
          "mark": {"type": "text", "font": "Liberation Sans", "fontSize": 13, "color": "#333", "lineBreak": "\n", "lineHeight": 14, "align": "center", "baseline": "middle"},
          "encoding": {
            "x": {"field": "x", "type": "quantitative"},
            "y": {"field": "y", "type": "quantitative"},
            "text": {"field": "label", "type": "nominal"}
          }
        }
      ]
    }
  ]
}
